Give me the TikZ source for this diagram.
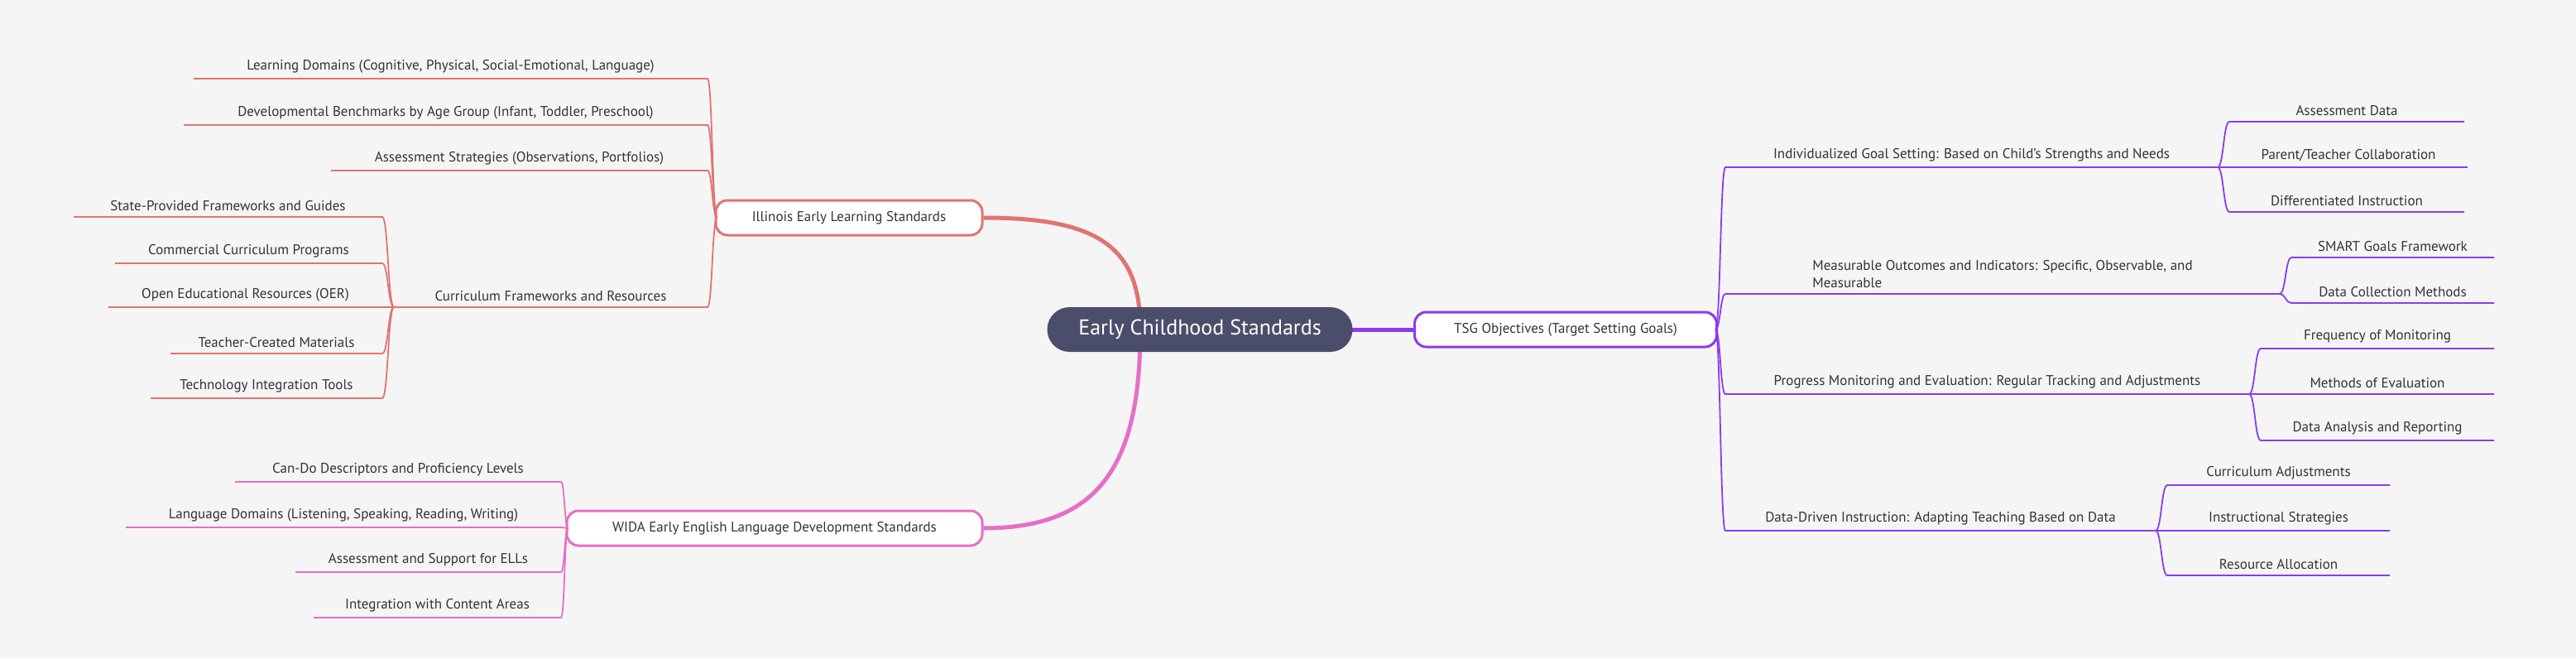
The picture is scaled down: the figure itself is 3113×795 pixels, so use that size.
\documentclass[tikz,border=0pt]{standalone}
\usepackage{fontspec}
\setmainfont{PT Sans}
\usetikzlibrary{calc}
\definecolor{bg}{HTML}{F5F5F5}
\definecolor{cred}{HTML}{E07472}
\definecolor{cpink}{HTML}{E56FC6}
\definecolor{cpur}{HTML}{8A3CEB}
\definecolor{cdark}{HTML}{4B4E6B}
\definecolor{ctext}{HTML}{333333}
\tikzset{
 leaftext/.style={font=\fontsize{17}{21}\selectfont, text=ctext, inner sep=0pt, above=7pt},
 topbox/.style={draw, line width=3pt, fill=white, rounded corners=14pt, minimum height=42pt, inner xsep=20pt, font=\fontsize{17}{21}\selectfont, text=ctext},
 lredge/.style={line width=1.8pt}
}
\newcommand\brch[7]{%
 \coordinate (#1-a) at (#3,#5); \coordinate (#1-b) at (#4,#5);
 \coordinate (#1-m) at ($(#2)!0.5!(#1-a)$);
 \node[leaftext, align=left] (#1) at ($(#1-a)!0.5!(#1-b)$) {#6};
 \draw[lredge,#7] (#2) .. controls (#1-m |- #2) and (#1-m |- #1-a) .. (#1-a) -- (#1-b);
}
\begin{document}
\begin{tikzpicture}[x=1pt,y=-1pt]
\fill[bg] (0,0) rectangle (3113,795);
\useasboundingbox (0,0) rectangle (3113,795);
\coordinate (c) at (1450,398);
\node[topbox, draw=cred, minimum width=322pt] (ill) at (1026,263) {Illinois Early Learning Standards};
\node[topbox, draw=cpink, minimum width=502pt] (wida) at (936,638) {WIDA Early English Language Development Standards};
\node[topbox, draw=cpur, minimum width=365pt] (tsg) at (1892,398) {TSG Objectives (Target Setting Goals)};
\draw[cred, line width=5pt] (ill.east) .. controls (1330,263) and (1378,300) .. (1378,398);
\draw[cpink, line width=5pt] (wida.east) .. controls (1330,638) and (1378,560) .. (1378,398);
\draw[cpur, line width=5pt] (c) -- (tsg.west);
\node[fill=cdark, rounded corners=27pt, minimum width=369pt, minimum height=54pt, text=white, font=\fontsize{26}{30}\selectfont] (central) at (c) {Early Childhood Standards};
% Illinois
\coordinate (ip) at ($(ill.west)+(3,0)$);
\brch{l1}{ip}{855}{234}{95}{Learning Domains (Cognitive, Physical, Social-Emotional, Language)}{cred}
\brch{l2}{ip}{855}{222}{151}{Developmental Benchmarks by Age Group (Infant, Toddler, Preschool)}{cred}
\brch{l3}{ip}{855}{400}{206}{Assessment Strategies (Observations, Portfolios)}{cred}
\brch{cf}{ip}{855}{476}{371}{Curriculum Frameworks and Resources}{cred}
\brch{c1}{cf-b}{462}{89}{262}{State-Provided Frameworks and Guides}{cred}
\brch{c2}{cf-b}{462}{139}{318}{Commercial Curriculum Programs}{cred}
\brch{c3}{cf-b}{462}{131}{371}{Open Educational Resources (OER)}{cred}
\brch{c4}{cf-b}{462}{206}{427}{Teacher-Created Materials}{cred}
\brch{c5}{cf-b}{462}{182}{481}{Technology Integration Tools}{cred}
% WIDA
\coordinate (wp) at ($(wida.west)+(3,0)$);
\brch{w1}{wp}{678}{284}{582}{Can-Do Descriptors and Proficiency Levels}{cpink}
\brch{w2}{wp}{678}{152}{637}{Language Domains (Listening, Speaking, Reading, Writing)}{cpink}
\brch{w3}{wp}{678}{357}{691}{Assessment and Support for ELLs}{cpink}
\brch{w4}{wp}{678}{379}{746}{Integration with Content Areas}{cpink}
% TSG
\coordinate (tp) at ($(tsg.east)+(-3,0)$);
\brch{t1}{tp}{2085}{2680}{202}{Individualized Goal Setting: Based on Child's Strengths and Needs}{cpur}
\brch{t2}{tp}{2085}{2755}{355}{Measurable Outcomes and Indicators: Specific, Observable, and\\Measurable}{cpur}
\brch{t3}{tp}{2085}{2718}{476}{Progress Monitoring and Evaluation: Regular Tracking and Adjustments}{cpur}
\brch{t4}{tp}{2085}{2605}{641}{Data-Driven Instruction: Adapting Teaching Based on Data}{cpur}
\brch{s1}{t1-b}{2694}{2978}{147}{Assessment Data}{cpur}
\brch{s2}{t1-b}{2694}{2982}{202}{Parent/Teacher Collaboration}{cpur}
\brch{s3}{t1-b}{2694}{2978}{256}{Differentiated Instruction}{cpur}
\brch{s4}{t2-b}{2769}{3014}{311}{SMART Goals Framework}{cpur}
\brch{s5}{t2-b}{2769}{3014}{366}{Data Collection Methods}{cpur}
\brch{s6}{t3-b}{2732}{3014}{421}{Frequency of Monitoring}{cpur}
\brch{s7}{t3-b}{2732}{3014}{476}{Methods of Evaluation}{cpur}
\brch{s8}{t3-b}{2732}{3014}{532}{Data Analysis and Reporting}{cpur}
\brch{s9}{t4-b}{2619}{2888}{586}{Curriculum Adjustments}{cpur}
\brch{s10}{t4-b}{2619}{2888}{641}{Instructional Strategies}{cpur}
\brch{s11}{t4-b}{2619}{2888}{695}{Resource Allocation}{cpur}
\end{tikzpicture}
\end{document}
